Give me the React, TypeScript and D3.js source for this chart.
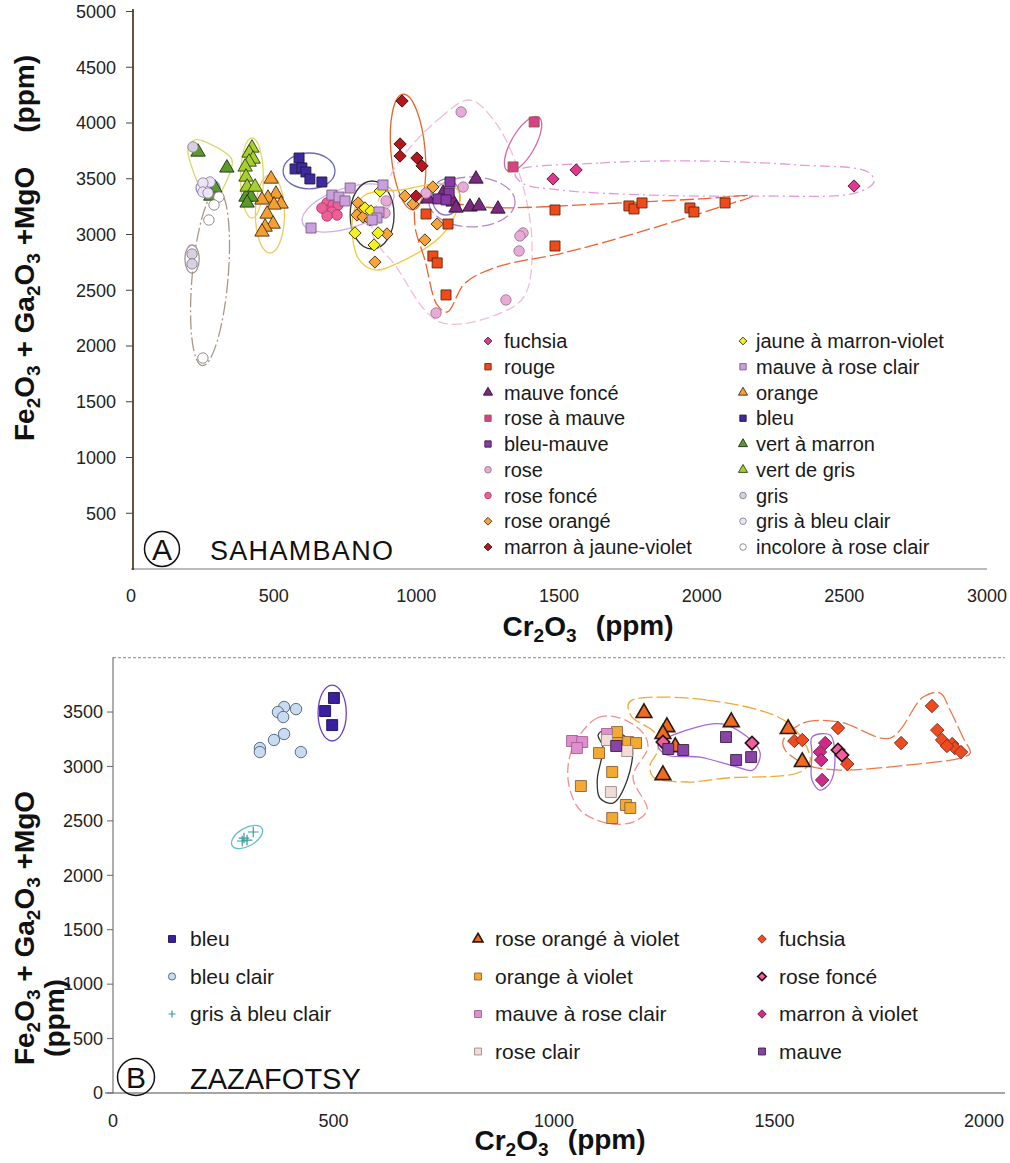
import React, { useEffect } from "react";
import * as d3 from "d3";

// ---------- Panel A : SAHAMBANO  [Cr2O3, Fe2O3+Ga2O3+MgO] ----------
const fuchsiaA = [[1479, 3498], [1560, 3579], [2534, 3435]];
const rougeA = [[1034, 3184], [1111, 3094], [1058, 2807], [1073, 2745], [1104, 2458], [1486, 3220], [1486, 2897],
  [1745, 3256], [1763, 3229], [1791, 3283], [1959, 3238], [1973, 3202], [2082, 3283]];
const mauveFonceA = [[1209, 3498], [1041, 3319], [1094, 3372], [1129, 3292], [1139, 3238], [1188, 3247], [1220, 3256], [1286, 3229]];
const roseMauveA = [[1413, 4009], [1339, 3606]];
const bleuMauveA = [[1118, 3471], [1115, 3372], [1076, 3319], [1104, 3310]];
const roseA = [[1157, 4099], [1164, 3426], [1034, 3372], [894, 3301], [890, 3193], [1374, 3014], [1363, 2987],
  [1360, 2852], [1314, 2413], [1069, 2296]];
const roseFonceA = [[687, 3283], [708, 3265], [726, 3265], [680, 3220], [704, 3202], [722, 3175], [687, 3166], [669, 3238]];
const roseOrangeA = [[796, 3283], [806, 3211], [792, 3175], [813, 3157], [838, 3130], [897, 3005], [855, 2753],
  [960, 3345], [988, 3274], [1058, 3426], [1073, 3094], [1030, 2951]];
const marronA = [[950, 4197], [943, 3812], [943, 3704], [1002, 3686], [1020, 3615], [999, 3345]];
const jauneA = [[873, 3390], [820, 3238], [841, 3211], [785, 3014], [866, 3014], [852, 2906]];
const mauveRoseClairA = [[768, 3417], [704, 3354], [729, 3336], [750, 3301], [631, 3058], [883, 3444], [869, 3202], [862, 3148], [845, 3130]];
const orangeA = [[491, 3498], [508, 3363], [480, 3327], [459, 3310], [526, 3274], [501, 3265], [477, 3184], [498, 3094], [470, 3067], [459, 3023]];
const bleuA = [[589, 3686], [575, 3588], [599, 3597], [613, 3561], [627, 3498], [669, 3471]];
const vertMarronA = [[235, 3740], [336, 3597], [294, 3417], [280, 3345], [403, 3336], [421, 3336], [407, 3283]];
const vertGrisA = [[424, 3776], [414, 3731], [428, 3677], [414, 3650], [400, 3606], [403, 3516], [407, 3426], [435, 3426]];
const grisA = [[217, 3785], [214, 2825], [214, 2736]];
const grisBleuA = [[277, 3471], [252, 3462], [252, 3381], [270, 3372]];
const incoloreA = [[308, 3336], [291, 3265], [273, 3130], [252, 1892]];

// outlines drawn round the groups (data units)
const ellipsesA = [
  { c: [270, 3417], r: [42, 81], rot: 0, color: "#9a90d0", dash: "" },
  { c: [277, 2610], r: [63, 789], rot: 5, color: "#a89888", dash: "14 3 2 3" },
  { c: [214, 2780], r: [25, 126], rot: 0, color: "#a09890", dash: "" },
  { c: [424, 3507], r: [40, 359], rot: 0, color: "#dede58", dash: "" },
  { c: [487, 3184], r: [51, 350], rot: 0, color: "#f2c860", dash: "" },
  { c: [624, 3570], r: [91, 161], rot: 0, color: "#6a6ab8", dash: "" },
  { c: [761, 3238], r: [168, 179], rot: -18, color: "#d4ace8", dash: "" },
  { c: [845, 3175], r: [77, 305], rot: 0, color: "#333333", dash: "" },
  { c: [971, 3740], r: [60, 520], rot: -5, color: "#e86428", dash: "" },
  { c: [1374, 3812], r: [42, 278], rot: 30, color: "#d868a8", dash: "" },
  { c: [1195, 3292], r: [151, 224], rot: 0, color: "#b888c8", dash: "12 4" },
  { c: [1104, 3336], r: [49, 161], rot: 0, color: "#8a7ad0", dash: "" },
];
const vertOutlineA = [[200, 3758], [224, 3848], [284, 3803], [354, 3668], [333, 3471], [291, 3310], [252, 3381], [214, 3597]];
const roseOrangeOutlineA = [[778, 3175], [820, 3354], [943, 3399], [1111, 3453], [1153, 3354], [1136, 3175], [1083, 2978], [943, 2753], [855, 2682], [796, 2789]];
const roseOutlineA = [[925, 3597], [1083, 4045], [1188, 4206], [1276, 4009], [1357, 3579], [1405, 2951], [1381, 2458], [1304, 2305], [1083, 2215], [925, 2727], [845, 3023]];
const fuchsiaOutlineA = [[1346, 3561], [1644, 3641], [1994, 3659], [2345, 3623], [2583, 3561], [2604, 3471], [2538, 3372], [2205, 3345], [1819, 3354], [1504, 3399], [1370, 3462]];
const rougeOutlineA = [[1006, 3265], [1293, 3238], [1644, 3274], [1994, 3319], [2177, 3345], [2064, 3247], [1784, 3023], [1514, 2834], [1283, 2709], [1171, 2565], [1108, 2305], [1073, 2368], [1030, 2771], [995, 3085]];

// ---------- Panel B : ZAZAFOTSY ----------
const bleuB = [[501, 3629], [481, 3509], [497, 3380]];
const bleuClairB = [[388, 3546], [374, 3500], [386, 3454], [415, 3527], [388, 3298], [365, 3243], [333, 3169], [333, 3132], [426, 3132]];
const grisBleuB = [[297, 2342], [304, 2324], [318, 2398], [293, 2315]];
const roseOrangeVioletB = [[1204, 3491], [1256, 3362], [1247, 3298], [1275, 3178], [1247, 2921], [1402, 3408], [1531, 3344], [1563, 3041]];
const orangeVioletB = [[1143, 3316], [1102, 3123], [1132, 2949], [1061, 2820], [1163, 2646], [1173, 2618], [1132, 2526], [1168, 3224], [1186, 3215], [1143, 3215]];
const mauveRoseClairB = [[1041, 3234], [1064, 3224], [1052, 3169], [1120, 3298]];
const roseClairB = [[1166, 3142], [1129, 2765], [1120, 3243]];
const fuchsiaB = [[1545, 3234], [1563, 3243], [1644, 3353], [1665, 3022], [1787, 3215], [1857, 3555], [1869, 3334],
  [1880, 3243], [1903, 3206], [1909, 3169], [1923, 3132], [1891, 3188]];
const roseFonceB = [[1247, 3224], [1449, 3215], [1644, 3151], [1653, 3105]];
const marronVioletB = [[1615, 3215], [1603, 3132], [1606, 3059], [1608, 2875]];
const mauveB = [[1141, 3188], [1259, 3160], [1293, 3151], [1390, 3270], [1413, 3059], [1447, 3086]];

const ellipsesB = [
  { c: [497, 3491], r: [32, 257], rot: 0, color: "#6a40c0", dash: "" },
  { c: [304, 2352], r: [39, 83], rot: -30, color: "#60c0d0", dash: "" },
];
const triOutlineB = [[1177, 3610], [1347, 3610], [1531, 3399], [1581, 3059], [1558, 2949], [1392, 2894], [1302, 2857], [1225, 2903], [1218, 3013], [1236, 3151], [1229, 3307], [1177, 3454], [1168, 3564]];
const mauveOutlineB = [[1236, 3197], [1324, 3362], [1392, 3380], [1467, 3132], [1451, 2967], [1415, 2995], [1331, 3086], [1256, 3105]];
const orangeOutlineB = [[1043, 3178], [1098, 3445], [1150, 3445], [1202, 3307], [1213, 3178], [1179, 2903], [1211, 2600], [1179, 2489], [1120, 2480], [1059, 2600], [1032, 2875]];
const roseClairOutlineB = [[1100, 3289], [1116, 3334], [1157, 3289], [1177, 3178], [1166, 2875], [1134, 2664], [1104, 2710], [1098, 2875], [1111, 3178]];
const fuchsiaOutlineB = [[1520, 3243], [1565, 3399], [1649, 3408], [1762, 3261], [1837, 3638], [1876, 3674], [1898, 3518], [1928, 3261], [1944, 3123], [1921, 3077], [1801, 3013], [1649, 2967], [1574, 3013], [1524, 3151]];
const marronOutlineB = [[1585, 3270], [1626, 3289], [1637, 3086], [1626, 2848], [1603, 2783], [1585, 2875], [1585, 3123]];

const ticksA_x = [0, 500, 1000, 1500, 2000, 2500, 3000];
const ticksA_y = [500, 1000, 1500, 2000, 2500, 3000, 3500, 4000, 4500, 5000];
const ticksB_x = [0, 500, 1000, 1500, 2000];
const ticksB_y = [0, 500, 1000, 1500, 2000, 2500, 3000, 3500];

type Shape = "square" | "diamond" | "triangle" | "circle" | "cross";
interface Series { label: string; shape: Shape; fill: string; stroke: string; pts: number[][]; sw?: number }

const seriesA: Series[] = [
  { label: "fuchsia", shape: "diamond", fill: "#e0388f", stroke: "#4a2030", pts: fuchsiaA },
  { label: "rouge", shape: "square", fill: "#f04a1a", stroke: "#5a2a10", pts: rougeA },
  { label: "mauve foncé", shape: "triangle", fill: "#7b2a80", stroke: "#2a1028", pts: mauveFonceA },
  { label: "rose à mauve", shape: "square", fill: "#d8408a", stroke: "#8a6030", pts: roseMauveA },
  { label: "bleu-mauve", shape: "square", fill: "#8a3aa8", stroke: "#3a2040", pts: bleuMauveA },
  { label: "rose", shape: "circle", fill: "#eaaad8", stroke: "#9a7a8a", pts: roseA },
  { label: "rose foncé", shape: "circle", fill: "#ec5f97", stroke: "#b04070", pts: roseFonceA },
  { label: "rose orangé", shape: "diamond", fill: "#f3a43a", stroke: "#4a3018", pts: roseOrangeA },
  { label: "marron à jaune-violet", shape: "diamond", fill: "#b3181e", stroke: "#3a1010", pts: marronA },
  { label: "jaune à marron-violet", shape: "diamond", fill: "#f4f21e", stroke: "#3a3a10", pts: jauneA },
  { label: "mauve à rose clair", shape: "square", fill: "#caa0dc", stroke: "#7a6080", pts: mauveRoseClairA },
  { label: "orange", shape: "triangle", fill: "#f4a030", stroke: "#4a2a10", pts: orangeA },
  { label: "bleu", shape: "square", fill: "#3e2a9c", stroke: "#20184a", pts: bleuA },
  { label: "vert à marron", shape: "triangle", fill: "#5a9a2a", stroke: "#203010", pts: vertMarronA },
  { label: "vert de gris", shape: "triangle", fill: "#a6cf30", stroke: "#304010", pts: vertGrisA },
  { label: "gris", shape: "circle", fill: "#d8d0e0", stroke: "#8a8090", pts: grisA },
  { label: "gris à bleu clair", shape: "circle", fill: "#ece4f6", stroke: "#8a8498", pts: grisBleuA },
  { label: "incolore à rose clair", shape: "circle", fill: "#ffffff", stroke: "#8a8080", pts: incoloreA },
];

const seriesB: Series[] = [
  { label: "bleu", shape: "square", fill: "#3a20a0", stroke: "#1a1050", pts: bleuB },
  { label: "bleu clair", shape: "circle", fill: "#c8dcf0", stroke: "#506080", pts: bleuClairB },
  { label: "gris à bleu clair", shape: "cross", fill: "none", stroke: "#3a9a9a", pts: grisBleuB },
  { label: "rose orangé à violet", shape: "triangle", fill: "#f06a20", stroke: "#2a1a10", pts: roseOrangeVioletB, sw: 1.6 },
  { label: "orange à violet", shape: "square", fill: "#f4aa30", stroke: "#8a6040", pts: orangeVioletB },
  { label: "mauve à rose clair", shape: "square", fill: "#e08ed0", stroke: "#a06090", pts: mauveRoseClairB },
  { label: "rose clair", shape: "square", fill: "#f2dcd8", stroke: "#a08a88", pts: roseClairB },
  { label: "fuchsia", shape: "diamond", fill: "#f04a20", stroke: "#7a3020", pts: fuchsiaB },
  { label: "rose foncé", shape: "diamond", fill: "#f0609a", stroke: "#2a1018", pts: roseFonceB, sw: 1.6 },
  { label: "marron à violet", shape: "diamond", fill: "#d02a88", stroke: "#6a2040", pts: marronVioletB },
  { label: "mauve", shape: "square", fill: "#8a44a8", stroke: "#3a2040", pts: mauveB },
];

const FONT = "Liberation Sans, Arial, Helvetica, sans-serif";

const xA = d3.scaleLinear().domain([0, 3000]).range([131, 987]);
const yA = d3.scaleLinear().domain([0, 5000]).range([569, 11.5]);
const xB = d3.scaleLinear().domain([0, 2000]).range([113, 995]);
const yB = d3.scaleLinear().domain([0, 4000]).range([1093, 657.6]);

function symbolPath(shape: Shape, size: number) {
  if (shape === "cross") {
    const h = Math.sqrt(size) / 2;
    return `M${-h},0H${h}M0,${-h}V${h}`;
  }
  const t = shape === "triangle" ? d3.symbolTriangle : shape === "circle" ? d3.symbolCircle : d3.symbolSquare;
  return d3.symbol().type(t).size(size)() as string;
}

function Marker({ s, x, y, size }: { s: Series; x: number; y: number; size: number }) {
  const sz = s.shape === "diamond" ? size * 0.75 : s.shape === "triangle" ? size * 0.9 : s.shape === "circle" ? size * 0.85 : size;
  return (
    <path
      d={symbolPath(s.shape, sz)}
      transform={`translate(${x},${y})${s.shape === "diamond" ? " rotate(45)" : ""}`}
      fill={s.fill}
      stroke={s.stroke}
      strokeWidth={s.shape === "cross" ? 1.2 : s.sw || 0.9}
    />
  );
}

function Ell({ e, sx, sy }: any) {
  const cx = sx(e.c[0]);
  const cy = sy(e.c[1]);
  const rx = sx(e.c[0] + e.r[0]) - cx;
  const ry = cy - sy(e.c[1] + e.r[1]);
  return (
    <ellipse cx={cx} cy={cy} rx={rx} ry={ry} transform={`rotate(${e.rot},${cx},${cy})`}
      fill="none" stroke={e.color} strokeWidth={1.3} strokeDasharray={e.dash} />
  );
}

function Outline({ pts, sx, sy, color, dash }: any) {
  const line = d3.line<number[]>().x((d) => sx(d[0])).y((d) => sy(d[1])).curve(d3.curveCatmullRomClosed.alpha(0.5));
  return <path d={line(pts) as string} fill="none" stroke={color} strokeWidth={1.3} strokeDasharray={dash} />;
}

function Sub({ children }: { children: string }) {
  return <tspan fontSize="0.68em" dy="0.3em">{children}</tspan>;
}
function Up({ children, dx }: { children: string; dx?: number }) {
  return <tspan dy="-0.2em" dx={dx}>{children}</tspan>;
}

function YTitle({ x, y, withPpm }: { x: number; y: number; withPpm: boolean }) {
  return (
    <text transform={`translate(${x},${y}) rotate(-90)`} textAnchor="middle" fontFamily={FONT} fontWeight="bold" fontSize={28} fill="#111">
      Fe<Sub>2</Sub><Up>O</Up><Sub>3</Sub><Up> + Ga</Up><Sub>2</Sub><Up>O</Up><Sub>3</Sub><Up> +MgO</Up>
      {withPpm ? <tspan dx={34}>(ppm)</tspan> : null}
    </text>
  );
}

function XTitle({ x, y }: { x: number; y: number }) {
  return (
    <text x={x} y={y} textAnchor="middle" fontFamily={FONT} fontWeight="bold" fontSize={28} fill="#111">
      Cr<Sub>2</Sub><Up>O</Up><Sub>3</Sub><tspan dy="0.1em" fontSize="0.68em"> </tspan><tspan dy="-0.3em" dx={14}>(ppm)</tspan>
    </text>
  );
}

export default function App() {
  useEffect(() => {
    document.body.style.margin = "0";
  }, []);

  const legA1 = seriesA.slice(0, 9);
  const legA2 = seriesA.slice(9);
  const legB = [seriesB.slice(0, 3), seriesB.slice(3, 7), seriesB.slice(7)];
  const legBx = [[172, 190], [478, 495], [762, 779]];

  return (
    <svg width={1010} height={1163} style={{ position: "absolute", left: 0, top: 0, background: "#fff" }}>
      <rect width={1010} height={1163} fill="#fff" />

      {/* ---------- Panel A ---------- */}
      <line x1={131} x2={987} y1={569} y2={569} stroke="#777" strokeWidth={1.2} />
      <line x1={133} x2={133} y1={9} y2={570} stroke="#3a2a10" strokeWidth={1.6} />
      {ticksA_y.map((t) => (
        <g key={"ya" + t}>
          <line x1={126} x2={133} y1={yA(t)} y2={yA(t)} stroke="#444" />
          <text x={116} y={yA(t)} dy="0.35em" textAnchor="end" fontFamily={FONT} fontSize={18} fill="#222">{t}</text>
        </g>
      ))}
      {ticksA_x.map((t) => (
        <text key={"xa" + t} x={xA(t)} y={602} textAnchor="middle" fontFamily={FONT} fontSize={18} fill="#222">{t}</text>
      ))}
      <YTitle x={34} y={248} withPpm={true} />
      <XTitle x={588} y={636} />

      {ellipsesA.map((e, i) => <Ell key={"ea" + i} e={e} sx={xA} sy={yA} />)}
      <Outline pts={vertOutlineA} sx={xA} sy={yA} color="#d8d870" dash="" />
      <Outline pts={roseOrangeOutlineA} sx={xA} sy={yA} color="#f2c838" dash="" />
      <Outline pts={roseOutlineA} sx={xA} sy={yA} color="#f2bcdc" dash="10 4" />
      <Outline pts={fuchsiaOutlineA} sx={xA} sy={yA} color="#e89ad8" dash="10 4 2 4" />
      <Outline pts={rougeOutlineA} sx={xA} sy={yA} color="#f06030" dash="14 4" />

      {seriesA.map((s) => s.pts.map((p, i) => <Marker key={s.label + i} s={s} x={xA(p[0])} y={yA(p[1])} size={100} />))}

      {legA1.map((s, i) => (
        <g key={"la1" + i}>
          <Marker s={s} x={488} y={341 + i * 25.75} size={40} />
          <text x={504} y={341 + i * 25.75} dy="0.35em" fontFamily={FONT} fontSize={20} fill="#1a1a1a">{s.label}</text>
        </g>
      ))}
      {legA2.map((s, i) => (
        <g key={"la2" + i}>
          <Marker s={s} x={743} y={341 + i * 25.75} size={40} />
          <text x={756} y={341 + i * 25.75} dy="0.35em" fontFamily={FONT} fontSize={20} fill="#1a1a1a">{s.label}</text>
        </g>
      ))}

      <circle cx={162} cy={549} r={17.5} fill="none" stroke="#111" strokeWidth={1.5} />
      <text x={162} y={560} textAnchor="middle" fontFamily={FONT} fontSize={30} fill="#111">A</text>
      <text x={210} y={560} fontFamily={FONT} fontSize={27} letterSpacing={1.3} fill="#111">SAHAMBANO</text>

      {/* ---------- Panel B ---------- */}
      <line x1={113} x2={1005} y1={657.6} y2={657.6} stroke="#a898b8" strokeWidth={1.2} strokeDasharray="3 2" />
      <line x1={105} x2={1005} y1={1093} y2={1093} stroke="#888" strokeWidth={1.4} />
      <line x1={113} x2={113} y1={657} y2={1093} stroke="#777" strokeWidth={1.2} />
      {ticksB_y.map((t) => (
        <g key={"yb" + t}>
          <line x1={107} x2={113} y1={yB(t)} y2={yB(t)} stroke="#666" />
          <text x={103} y={yB(t)} dy="0.35em" textAnchor="end" fontFamily={FONT} fontSize={18} fill="#222">{t}</text>
        </g>
      ))}
      {ticksB_x.map((t) => (
        <text key={"xb" + t} x={Math.min(xB(t), 984)} y={1127} textAnchor="middle" fontFamily={FONT} fontSize={18} fill="#222">{t}</text>
      ))}
      <YTitle x={34} y={928} withPpm={false} />
      <text transform="translate(64,1018) rotate(-90)" textAnchor="middle" fontFamily={FONT} fontWeight="bold" fontSize={28} fill="#111">(ppm)</text>
      <XTitle x={560} y={1150} />

      {ellipsesB.map((e, i) => <Ell key={"eb" + i} e={e} sx={xB} sy={yB} />)}
      <Outline pts={triOutlineB} sx={xB} sy={yB} color="#f0a838" dash="14 4" />
      <Outline pts={mauveOutlineB} sx={xB} sy={yB} color="#a868d8" dash="" />
      <Outline pts={orangeOutlineB} sx={xB} sy={yB} color="#f09090" dash="10 4" />
      <Outline pts={roseClairOutlineB} sx={xB} sy={yB} color="#333" dash="" />
      <Outline pts={fuchsiaOutlineB} sx={xB} sy={yB} color="#f07848" dash="16 4" />
      <Outline pts={marronOutlineB} sx={xB} sy={yB} color="#a070d8" dash="" />

      {seriesB.map((s) => s.pts.map((p, i) => <Marker key={s.label + i} s={s} x={xB(p[0])} y={yB(p[1])} size={s.shape === "cross" ? 110 : 120} />))}

      {legB.map((col, c) => col.map((s, i) => (
        <g key={"lb" + c + i}>
          <Marker s={s} x={legBx[c][0]} y={939 + i * 37.5} size={48} />
          <text x={legBx[c][1]} y={939 + i * 37.5} dy="0.35em" fontFamily={FONT} fontSize={21} fill="#1a1a1a">{s.label}</text>
        </g>
      )))}

      <circle cx={136} cy={1077} r={18.5} fill="none" stroke="#111" strokeWidth={1.5} />
      <text x={136} y={1088} textAnchor="middle" fontFamily={FONT} fontSize={30} fill="#111">B</text>
      <text x={190} y={1089} fontFamily={FONT} fontSize={29} fill="#111">ZAZAFOTSY</text>
    </svg>
  );
}
